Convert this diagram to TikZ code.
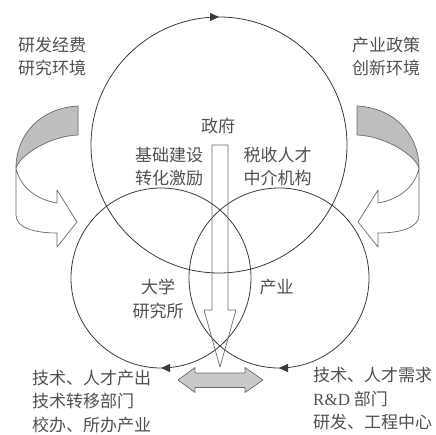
\documentclass[tikz,border=0pt]{standalone}
\usepackage{fontspec}
\setmainfont{Liberation Serif}
\newfontfamily\cjk{Noto Sans CJK SC}
\usetikzlibrary{arrows.meta,decorations.markings}
\definecolor{LineGray}{HTML}{3A3A3A}
\definecolor{EdgeGray}{HTML}{6A6A6A}
\definecolor{TextGray}{HTML}{505050}
\definecolor{BandGray}{HTML}{BEBEBE}
\definecolor{LinkGray}{HTML}{C9C9C9}

\begin{document}
\begin{tikzpicture}[
  x=1pt, y=-1pt,
  ring/.style={draw=LineGray, line width=0.8pt},
  ringtip/.style={postaction={decorate}, decoration={markings, mark=at position #1 with {\arrowreversed{Triangle[length=9pt,width=8pt]}}}},
  lbl/.style={inner sep=0pt, text=TextGray, align=center, font=\cjk\fontsize{17}{23.5}\selectfont},
  lblL/.style={lbl, align=left, anchor=west},
  block/.style={draw=EdgeGray, line width=0.7pt, line join=round}
]
\useasboundingbox (0,0) rectangle (435,435);

% three spheres
\coordinate (gov) at (219,145);
\coordinate (uni) at (161,278);
\coordinate (ind) at (279,278);
\draw[ring, ringtip=0.25] (gov) circle[radius=128pt];
\draw[ring, ringtip=0.75] (uni) circle[radius=90pt];
\draw[ring, ringtip=0.75] (ind) circle[radius=90pt];

% downward hollow arrow
\draw[block] (212,145) -- (228,145) -- (228,310) -- (236,310) -- (220,367)
  -- (204,310) -- (212,310) -- cycle;

% two-way arrow between university and industry
\draw[block, fill=LinkGray] (178,380) -- (195,367.5) -- (195,373) -- (245,373)
  -- (245,367.5) -- (263,380) -- (245,392.5) -- (245,387.5) -- (195,387.5)
  -- (195,392.5) -- cycle;

% curved ribbon arrows, left and mirrored right
\foreach \s/\dx in {1/0pt,-1/435pt}{
  \begin{scope}[xshift=\dx, xscale=\s]
    \draw[block, fill=BandGray] (78,106) .. controls (40,108) and (16,135) .. (16,168)
      .. controls (20,155) and (50,136) .. (78,135) -- cycle;
    \draw[block, fill=white] (16,168) -- (16,215) .. controls (16,228) and (35,233) .. (57,233)
      -- (57,247) -- (77,222) -- (57,190) -- (57,203)
      .. controls (38,200) and (20,188) .. (16,168) -- cycle;
  \end{scope}
}

% labels
\node[lbl]  (govT)  at (218,126)   {政府};
\node[lbl]  (govL)  at (169,166.5) {基础建设\\转化激励};
\node[lbl]  (govR)  at (277.5,166.5) {税收人才\\中介机构};
\node[lbl]  (uniT)  at (158,299)   {大学\\研究所};
\node[lbl]  (indT)  at (276.5,287) {产业};
\node[lblL] (fundT) at (18,56.5)   {研发经费\\研究环境};
\node[lblL] (polT)  at (352,56.5)  {产业政策\\创新环境};
\node[lblL] (uniB)  at (32,401.5)  {技术、人才产出\\技术转移部门\\校办、所办产业};
\node[lblL] (indB)  at (313,399)   {技术、人才需求\\{\rmfamily R\&D} 部门\\研发、工程中心};
\end{tikzpicture}
\end{document}
